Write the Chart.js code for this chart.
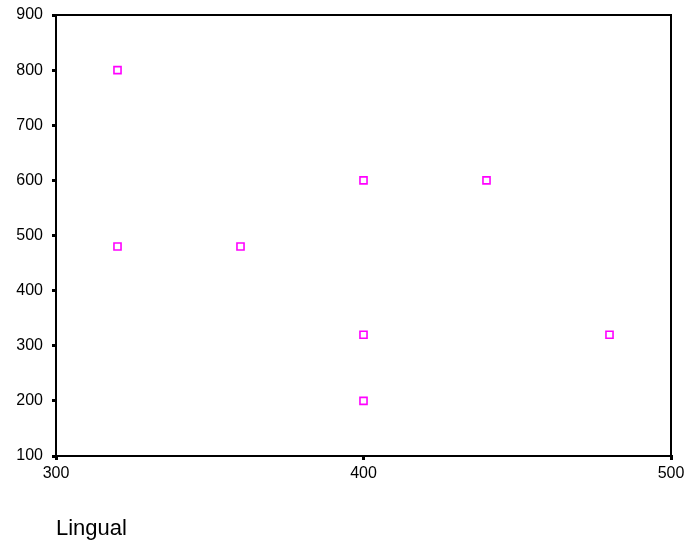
<!DOCTYPE html>
<html>
<head>
<meta charset="utf-8">
<script src="https://cdn.jsdelivr.net/npm/chart.js@4"></script>
<style>
html,body{margin:0;padding:0;background:#fff;}
#wrap{width:689px;height:542px;}
</style>
</head>
<body>
<div id="wrap"><canvas id="c" width="689" height="542"></canvas></div>
<script>
const xValues = [320, 320, 360, 400, 440, 400, 480, 400];
const yValues = [800, 480, 480, 600, 600, 320, 320, 200];
const xTicks = [300, 400, 500];
const yTicks = [100, 200, 300, 400, 500, 600, 700, 800, 900];
const xTitle = 'Lingual';

const points = xValues.map((x, i) => ({x: x, y: yValues[i]}));

const frame = {
  id: 'frame',
  afterDatasetsDraw(chart) {
    const a = chart.chartArea, ctx = chart.ctx;
    ctx.save();
    ctx.strokeStyle = '#000';
    ctx.lineWidth = 2;
    ctx.strokeRect(a.left, a.top, a.right - a.left, a.bottom - a.top);
    ctx.restore();
  }
};

new Chart(document.getElementById('c'), {
  type: 'scatter',
  data: {
    datasets: [{
      data: points,
      pointStyle: 'rect',
      radius: 5,
      hoverRadius: 5,
      borderColor: '#ff00ff',
      backgroundColor: 'rgba(255,255,255,0)',
      borderWidth: 1.6
    }]
  },
  options: {
    responsive: false,
    animation: false,
    devicePixelRatio: 1,
    layout: {padding: {left: 0, right: 18, top: 15, bottom: 0}},
    plugins: {legend: {display: false}, tooltip: {enabled: false}},
    scales: {
      x: {
        type: 'linear',
        min: xTicks[0], max: xTicks[xTicks.length - 1],
        afterBuildTicks(s) { s.ticks = xTicks.map(v => ({value: v})); },
        afterFit(s) { s.height = 86; s.paddingLeft = 0; s.paddingRight = 0; },
        grid: {drawOnChartArea: false, drawTicks: true, tickLength: 4, lineWidth: 3, color: '#000'},
        border: {display: true, color: '#000', width: 2},
        ticks: {color: '#000', font: {family: 'Liberation Sans, Arial', size: 16}, padding: 4, maxRotation: 0},
        title: {display: true, text: xTitle, align: 'start', color: '#000', font: {family: 'Liberation Sans, Arial', size: 22}, padding: {top: 30, bottom: 0}}
      },
      y: {
        type: 'linear',
        min: yTicks[0], max: yTicks[yTicks.length - 1],
        afterBuildTicks(s) { s.ticks = yTicks.map(v => ({value: v})); },
        afterFit(s) { s.width = 56; s.paddingTop = 0; s.paddingBottom = 0; },
        grid: {drawOnChartArea: false, drawTicks: true, tickLength: 4, lineWidth: 3, color: '#000'},
        border: {display: true, color: '#000', width: 2},
        ticks: {color: '#000', font: {family: 'Liberation Sans, Arial', size: 16}, padding: 9}
      }
    }
  },
  plugins: [frame]
});
</script>
</body>
</html>
